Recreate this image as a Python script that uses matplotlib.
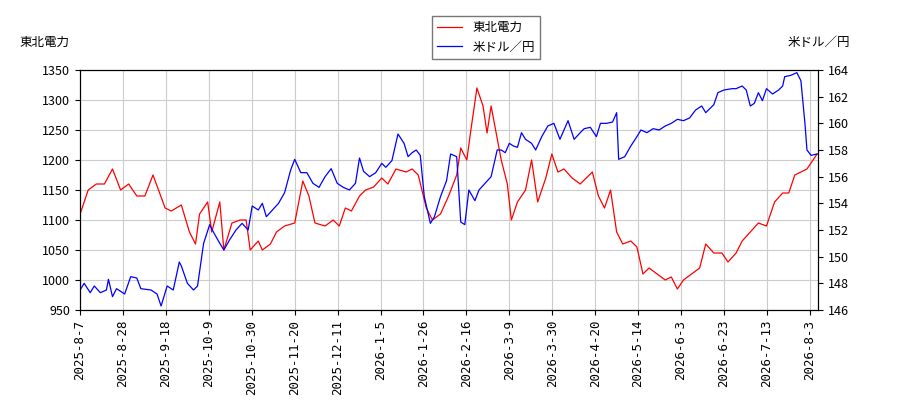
import matplotlib
matplotlib.use("Agg")
import matplotlib.pyplot as plt
import numpy as np

plt.rcParams['font.family'] = ['Noto Sans CJK JP', 'DejaVu Sans']

tick_labels = ["2025-8-7","2025-8-28","2025-9-18","2025-10-9","2025-10-30","2025-11-20","2025-12-11",
               "2026-1-5","2026-1-26","2026-2-16","2026-3-9","2026-3-30","2026-4-20","2026-5-14",
               "2026-6-3","2026-6-23","2026-7-13","2026-8-3"]
# positions along the (trading-day) axis, in units where one tick step = 21.2
red_pos = [0,4,8,12,16,20,24,28,32,36,42,45,50,54,57,59,63,65,69,71,75,79,82,84,88,90,94,97,101,106,110,113,116,121,125,128,131,134,138,141,145,149,152,156,161,164,167,171,174,178,182,186,188,191,193,196,199,201,203,208,211,213,216,220,223,226,230,233,236,239,243,247,250,253,256,259,262,265,268,272,275,278,281,285,289,292,295,298,302,306,309,313,317,320,324,327,331,335,339,343,347,350,353,356,359,362,364]
red_vals = [1110,1150,1160,1160,1185,1150,1160,1140,1140,1175,1120,1115,1125,1080,1060,1110,1130,1080,1130,1050,1095,1100,1100,1050,1065,1050,1060,1080,1090,1095,1165,1140,1095,1090,1100,1090,1120,1115,1140,1150,1155,1170,1160,1185,1180,1185,1175,1120,1100,1110,1140,1175,1220,1200,1250,1320,1290,1245,1290,1200,1160,1100,1130,1150,1200,1130,1170,1210,1180,1185,1170,1160,1170,1180,1140,1120,1150,1080,1060,1065,1055,1010,1020,1010,1000,1005,985,1000,1010,1020,1060,1045,1045,1030,1045,1065,1080,1095,1090,1130,1145,1145,1175,1180,1185,1200,1210]
blue_pos = [0,2,5,7,10,13,14,16,18,22,25,28,30,35,38,40,43,46,49,50,53,56,58,61,64,66,69,71,74,77,80,83,85,88,90,92,95,98,101,104,106,109,112,115,118,121,124,127,130,133,136,138,140,143,146,149,151,154,157,160,162,164,166,168,170,173,175,178,181,183,186,188,190,192,195,197,200,203,206,208,210,212,214,216,218,220,223,225,228,231,234,237,239,241,244,247,249,252,255,257,260,263,265,266,269,272,275,277,280,283,286,289,292,295,298,301,304,307,309,313,315,318,322,324,327,329,331,333,335,337,339,342,345,347,348,351,354,356,358,359,361,364]
blue_vals = [147.5,148,147.3,147.8,147.3,147.5,148.3,147,147.6,147.2,148.5,148.4,147.6,147.5,147.2,146.3,147.8,147.5,149.6,149.3,148,147.5,147.8,151,152.4,151.8,151,150.5,151.3,152,152.5,152,153.8,153.5,154,153,153.5,154,154.8,156.5,157.3,156.3,156.3,155.5,155.2,156,156.6,155.5,155.2,155,155.5,157.4,156.4,156,156.3,157,156.7,157.2,159.2,158.5,157.5,157.8,158,157.6,154.5,152.5,153,154.5,155.7,157.7,157.5,152.6,152.4,155,154.2,155,155.5,156,158,158,157.8,158.5,158.3,158.2,159.3,158.8,158.5,158,159,159.8,160,158.8,159.5,160.2,158.8,159.3,159.6,159.7,159,160,160,160.1,160.8,157.3,157.5,158.3,159,159.5,159.3,159.6,159.5,159.8,160,160.3,160.2,160.4,161,161.3,160.8,161.4,162.3,162.5,162.6,162.6,162.8,162.5,161.3,161.5,162.3,161.7,162.6,162.2,162.5,162.8,163.5,163.6,163.8,163.2,160,158,157.6,157.7]

fig = plt.figure(figsize=(9, 4), dpi=100)
ax = fig.add_axes([0.089, 0.225, 0.82, 0.6])
ax2 = ax.twinx()
l1, = ax.plot(red_pos, red_vals, color="red", lw=0.9)
l2, = ax2.plot(blue_pos, blue_vals, color="blue", lw=0.9)
ax.set_ylim(950, 1350)
ax.set_yticks(range(950, 1351, 50))
ax2.set_ylim(146, 164)
ax2.set_yticks(range(146, 165, 2))
ax.set_xlim(0, 364.5)
step = 21.2
ax.set_xticks([i * step for i in range(len(tick_labels))])
ax.set_xticklabels(tick_labels, rotation=90, fontsize=8, family="DejaVu Sans Mono")
ax.grid(True, color="#cccccc", lw=0.8)
for a in (ax, ax2):
    a.tick_params(labelsize=9)
fig.text(0.022, 0.885, "東北電力", fontsize=9)
fig.text(0.945, 0.885, "米ドル／円", fontsize=9, ha="right")
fig.legend([l1, l2], ["東北電力", "米ドル／円"], loc="upper center", bbox_to_anchor=(0.54, 0.975), fontsize=9, fancybox=False, edgecolor="#555555")
fig.savefig("out.png")
